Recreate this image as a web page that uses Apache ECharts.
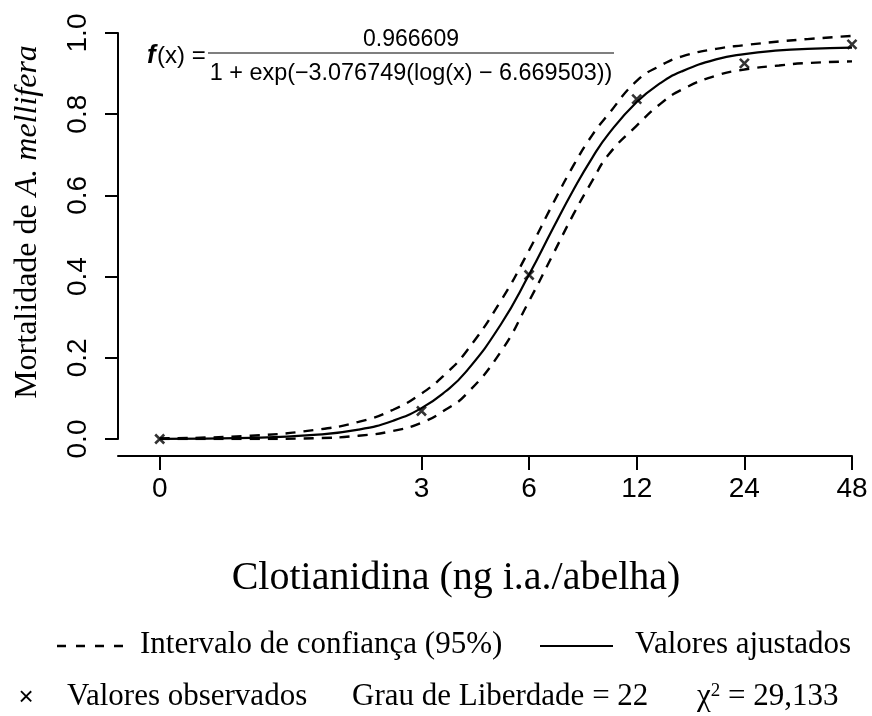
<!DOCTYPE html>
<html>
<head>
<meta charset="utf-8">
<script src="https://cdn.jsdelivr.net/npm/echarts@6/dist/echarts.min.js"></script>
<style>
  html, body { margin: 0; padding: 0; background: #fff; }
  #chart { width: 872px; height: 716px; }
</style>
</head>
<body>
<div id="chart"></div>
<script>
// Dose axis: tick doses (ng i.a./abelha); dose 0 is placed on the log scale at zeroDose
const doseTicks = [0, 3, 6, 12, 24, 48];
const doseTickLabels = ['0', '3', '6', '12', '24', '48'];
const zeroDose = 0.556;
const axisStartDose = 0.425;

// Observed mortality at each tested dose
const observedDoses = [0, 3, 6, 12, 24, 48];
const observedMortality = [0.0, 0.069, 0.404, 0.837, 0.925, 0.972];

// Fitted log-logistic curve and 95% confidence band
const curveDoses = [0, 1, 1.5, 2, 2.5, 3, 3.5, 4, 5, 6, 7, 8, 9, 10, 12, 14, 16, 20, 24, 30, 36, 48];
const fittedMortality = [0.0005, 0.003, 0.010, 0.023, 0.045, 0.076, 0.117, 0.166, 0.282, 0.405, 0.519, 0.615, 0.692, 0.751, 0.830, 0.877, 0.905, 0.935, 0.948, 0.957, 0.961, 0.964];
const upperMortality = [0.0015, 0.008, 0.022, 0.042, 0.072, 0.112, 0.160, 0.215, 0.340, 0.465, 0.580, 0.675, 0.748, 0.800, 0.882, 0.920, 0.942, 0.961, 0.970, 0.979, 0.985, 0.993];
const lowerMortality = [0.0, 0.0, 0.002, 0.008, 0.020, 0.040, 0.072, 0.110, 0.215, 0.340, 0.455, 0.555, 0.635, 0.700, 0.772, 0.826, 0.860, 0.895, 0.910, 0.920, 0.926, 0.930];

const SANS = 'Liberation Sans, Arial, sans-serif';
const SERIF = 'Liberation Serif, Times New Roman, serif';

// dose -> position on the log2 dose axis
const toAxis = d => Math.log2(d === 0 ? zeroDose : d);
const pairs = (xs, ys) => xs.map((d, i) => [toAxis(d), ys[i]]);

const tickPositions = doseTicks.map(toAxis);
const labelFor = v => {
  let best = 0;
  tickPositions.forEach((p, i) => { if (Math.abs(p - v) < Math.abs(tickPositions[best] - v)) best = i; });
  return doseTickLabels[best];
};

const chart = echarts.init(document.getElementById('chart'), null, { renderer: 'canvas' });

const curveStyle = { showSymbol: false, smooth: 0.5, type: 'line' };

const option = {
  backgroundColor: '#fff',
  animation: false,
  grid: { left: 118, right: 20, top: 33, bottom: 277, containLabel: false },
  xAxis: {
    type: 'value',
    min: Math.log2(axisStartDose),
    max: Math.log2(48),
    offset: 17,
    splitLine: { show: false },
    axisLine: { show: true, onZero: false, lineStyle: { color: '#000', width: 2 } },
    axisTick: { show: true, length: 14, lineStyle: { color: '#000', width: 2 }, customValues: tickPositions },
    axisLabel: {
      customValues: tickPositions,
      formatter: v => labelFor(v),
      color: '#000', fontFamily: SANS, fontSize: 28, margin: 19
    }
  },
  yAxis: {
    type: 'value',
    min: 0, max: 1, interval: 0.2,
    splitLine: { show: false },
    axisLine: { show: true, onZero: false, lineStyle: { color: '#000', width: 2 } },
    axisTick: { show: true, length: 13, lineStyle: { color: '#000', width: 2 } },
    axisLabel: {
      rotate: 90,
      formatter: v => v.toFixed(1),
      color: '#000', fontFamily: SANS, fontSize: 28, margin: 26
    }
  },
  series: [
    Object.assign({
      name: 'Intervalo superior',
      data: pairs(curveDoses, upperMortality),
      lineStyle: { color: '#000', width: 2.4, type: [10, 8] },
      z: 2
    }, curveStyle),
    Object.assign({
      name: 'Intervalo inferior',
      data: pairs(curveDoses, lowerMortality),
      lineStyle: { color: '#000', width: 2.4, type: [10, 8] },
      z: 2
    }, curveStyle),
    Object.assign({
      name: 'Valores ajustados',
      data: pairs(curveDoses, fittedMortality),
      lineStyle: { color: '#000', width: 2.2 },
      z: 3
    }, curveStyle),
    {
      name: 'Valores observados',
      type: 'scatter',
      data: pairs(observedDoses, observedMortality),
      symbol: 'path://M0,0L10,10M10,0L0,10',
      symbolSize: 9,
      itemStyle: { color: 'rgba(0,0,0,0)', borderColor: '#000', borderWidth: 2.6 },
      z: 4
    }
  ],
  graphic: [
    // fitted model equation
    { type: 'text', left: 147, top: 43, style: { text: 'f', font: 'italic bold 26px ' + SANS, fill: '#000' } },
    { type: 'text', left: 157, top: 44, style: { text: '(x) =', font: '24px ' + SANS, fill: '#000' } },
    { type: 'text', x: 411, y: 40, style: { text: '0.966609', font: '23px ' + SANS, fill: '#000', align: 'center', verticalAlign: 'middle' } },
    { type: 'line', shape: { x1: 208, y1: 53, x2: 614, y2: 53 }, style: { stroke: '#000', lineWidth: 1.2 } },
    { type: 'text', x: 411, y: 74, style: { text: '1 + exp(\u22123.076749(log(x) \u2212 6.669503))', font: '23.4px ' + SANS, fill: '#000', align: 'center', verticalAlign: 'middle' } },

    // y axis title
    { type: 'text', x: 28, y: 222, rotation: Math.PI / 2, style: {
        text: '{n|Mortalidade de }{i|A. mellifera}', align: 'center', verticalAlign: 'middle',
        rich: {
          n: { fontFamily: SERIF, fontSize: 32, fill: '#000' },
          i: { fontFamily: SERIF, fontSize: 32, fontStyle: 'italic', fill: '#000' }
        }
      } },

    // x axis title
    { type: 'text', x: 456, y: 578, style: { text: 'Clotianidina (ng i.a./abelha)', font: '40px ' + SERIF, fill: '#000', align: 'center', verticalAlign: 'middle' } },

    // key, first row
    { type: 'line', shape: { x1: 57, y1: 646, x2: 125, y2: 646 }, style: { stroke: '#000', lineWidth: 2.4, lineDash: [9, 10] } },
    { type: 'text', x: 140, y: 645, style: { text: 'Intervalo de confiança (95%)', font: '31px ' + SERIF, fill: '#000', verticalAlign: 'middle' } },
    { type: 'line', shape: { x1: 540, y1: 646, x2: 613, y2: 646 }, style: { stroke: '#000', lineWidth: 2.2 } },
    { type: 'text', x: 635, y: 645, style: { text: 'Valores ajustados', font: '31px ' + SERIF, fill: '#000', verticalAlign: 'middle' } },

    // key, second row
    { type: 'text', x: 26, y: 698, style: { text: '\u00d7', font: '26px ' + SANS, fill: '#000', align: 'center', verticalAlign: 'middle' } },
    { type: 'text', x: 67, y: 697, style: { text: 'Valores observados', font: '31px ' + SERIF, fill: '#000', verticalAlign: 'middle' } },
    { type: 'text', x: 352, y: 697, style: { text: 'Grau de Liberdade = 22', font: '31px ' + SERIF, fill: '#000', verticalAlign: 'middle' } },
    { type: 'text', x: 697, y: 697, style: {
        text: '{g|\u03c7}{s|2}{g| = 29,133}', verticalAlign: 'middle', fill: '#000',
        rich: {
          g: { fontFamily: SERIF, fontSize: 31, fill: '#000' },
          s: { fontFamily: SERIF, fontSize: 19, fill: '#000', verticalAlign: 'top', padding: [0, 0, 10, 0] }
        }
      } }
  ]
};

chart.setOption(option);
</script>
</body>
</html>
